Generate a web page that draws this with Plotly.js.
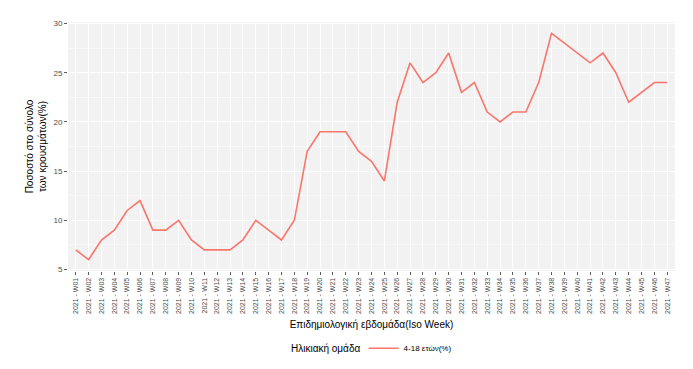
<!DOCTYPE html>
<html><head><meta charset="utf-8">
<script src="https://cdn.plot.ly/plotly-3.0.1.min.js"></script>
<style>html,body{margin:0;padding:0;background:#fff}#chart{width:693px;height:369px}</style>
</head><body><div id="chart"></div>
<script>
const weeks = ["2021 - W01","2021 - W02","2021 - W03","2021 - W04","2021 - W05","2021 - W06","2021 - W07","2021 - W08","2021 - W09","2021 - W10","2021 - W11","2021 - W12","2021 - W13","2021 - W14","2021 - W15","2021 - W16","2021 - W17","2021 - W18","2021 - W19","2021 - W20","2021 - W21","2021 - W22","2021 - W23","2021 - W24","2021 - W25","2021 - W26","2021 - W27","2021 - W28","2021 - W29","2021 - W30","2021 - W31","2021 - W32","2021 - W33","2021 - W34","2021 - W35","2021 - W36","2021 - W37","2021 - W38","2021 - W39","2021 - W40","2021 - W41","2021 - W42","2021 - W43","2021 - W44","2021 - W45","2021 - W46","2021 - W47"];
const pct_4_18 = [7,6,8,9,11,12,9,9,10,8,7,7,7,8,10,9,8,10,17,19,19,19,17,16,14,22,26,24,25,27,23,24,21,20,21,21,24,29,28,27,26,27,25,22,23,24,24];
const seriesName = "4-18 ετών(%)";
const legendTitle = "Ηλικιακή ομάδα";
const yTicks = [5,10,15,20,25,30];

const font = "Liberation Sans, Arial, sans-serif";
Plotly.newPlot("chart", [{
  x: weeks, y: pct_4_18, type: "scatter", mode: "lines", name: seriesName,
  line: {color: "#F8766D", width: 1.6}
}], {
  width: 693, height: 369,
  margin: {l: 68, r: 18, t: 22, b: 98, autoexpand: false},
  paper_bgcolor: "#fff", plot_bgcolor: "#F2F2F2",
  font: {family: font, color: "#4D4D4D"},
  xaxis: {
    type: "category", range: [-0.6, weeks.length - 0.4],
    tickangle: -90, tickfont: {size: 7, color: "#4D4D4D"},
    ticks: "outside", ticklen: 3, tickcolor: "#333", tickwidth: 0.8,
    showgrid: true, gridcolor: "#FFFFFF", gridwidth: 1, zeroline: false, showline: false,
    title: {text: "Επιδημιολογική εβδομάδα(Iso Week)", font: {size: 10, color: "#000"}, standoff: 8}
  },
  yaxis: {
    range: [4.85, 30.15], tickvals: yTicks,
    tickfont: {size: 8, color: "#4D4D4D"},
    ticks: "outside", ticklen: 3, tickcolor: "#333", tickwidth: 0.8,
    showgrid: true, gridcolor: "#FFFFFF", gridwidth: 1, zeroline: false, showline: false,
    minor: {dtick: 2.5, tick0: 2.5, showgrid: true, gridcolor: "#FFFFFF", gridwidth: 0.5, ticks: ""},
    title: {text: "Ποσοστό στο σύνολο<br>των κρουσμάτων(%)", font: {size: 10, color: "#000"}, standoff: 4}
  },
  showlegend: true,
  legend: {
    orientation: "h", x: 0.487, xanchor: "left", y: -0.31, yanchor: "middle",
    font: {size: 8, color: "#000"}, bgcolor: "rgba(0,0,0,0)", itemwidth: 30
  },
  annotations: [{
    text: legendTitle, xref: "paper", yref: "paper", x: 0.485, y: -0.31,
    xanchor: "right", yanchor: "middle", showarrow: false,
    font: {size: 10, color: "#000", family: font}
  }]
}, {displayModeBar: false, staticPlot: true});
</script></body></html>
